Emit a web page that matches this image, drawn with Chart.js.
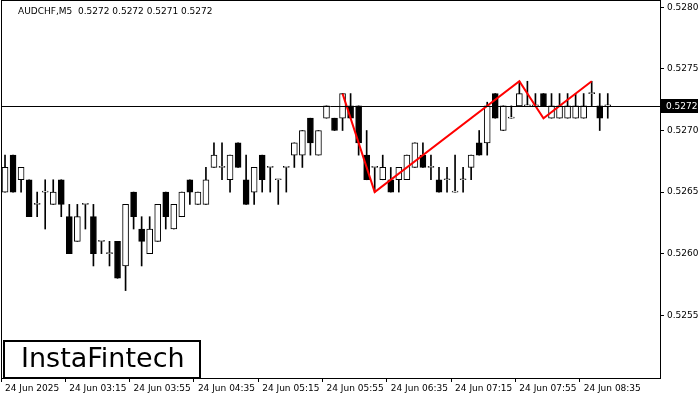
<!DOCTYPE html>
<html><head><meta charset="utf-8">
<script src="https://cdn.jsdelivr.net/npm/chart.js@4/dist/chart.umd.min.js"></script>
<style>html,body{margin:0;padding:0;background:#fff;overflow:hidden}canvas{display:block}</style>
</head><body><canvas id="c" width="700" height="400"></canvas>
<script>
const opens  = [.5265,.5268,.5266,.5266,.5264,.5265,.5264,.5266,.5263,.5261,.5264,.5263,.5261,.5260,.5261,.5259,.5265,.5262,.5260,.5261,
 .5265,.5262,.5263,.5266,.5264,.5264,.5267,.5267,.5266,.5269,.5266,.5265,.5268,.5267,.5266,.5267,.5268,.5268,.5271,.5268,
 .5271,.5271,.5271,.5272,.5272,.5268,.5267,.5266,.5266,.5266,.5266,.5267,.5268,.5267,.5266,.5266,.5265,.5266,.5267,.5269,
 .5269,.5273,.5270,.5271,.5272,.5272,.5272,.5273,.5271,.5271,.5271,.5271,.5271,.5273,.5272,.5272];
const highs  = [.5268,.5268,.5267,.5266,.5265,.5266,.5266,.5266,.5264,.5264,.5264,.5264,.5261,.5261,.5261,.5264,.5265,.5263,.5263,.5264,
 .5265,.5264,.5265,.5266,.5265,.5267,.5269,.5269,.5268,.5269,.5268,.5267,.5268,.5267,.5266,.5267,.5269,.5270,.5271,.5270,
 .5272,.5271,.5273,.5273,.5272,.5270,.5267,.5268,.5267,.5267,.5268,.5269,.5269,.5268,.5267,.5267,.5268,.5267,.5268,.5270,
 .52723,.5273,.5272,.5272,.5274,.5274,.5273,.5273,.5273,.5273,.5273,.5273,.5273,.5274,.5273,.5273];
const lows   = [.5265,.5265,.5265,.5263,.5263,.5262,.5264,.5263,.5260,.5261,.5262,.5259,.5260,.5259,.5258,.5257,.5262,.5259,.5260,.5261,
 .5262,.5262,.5263,.5264,.5264,.5264,.5267,.5266,.5265,.5267,.5264,.5264,.5265,.5265,.5264,.5265,.5267,.5267,.5268,.5268,
 .5271,.5270,.5270,.5271,.5268,.5266,.5265,.5266,.5265,.5265,.5266,.5267,.5267,.5266,.5265,.5265,.5265,.5265,.5266,.5268,
 .5268,.5271,.5270,.5271,.5272,.5272,.5272,.5272,.5271,.5271,.5271,.5271,.5271,.5272,.5270,.5271];
const closes = [.5267,.5265,.5267,.5263,.5264,.5265,.5265,.5264,.5260,.5263,.5264,.5260,.5261,.5260,.5258,.5264,.5263,.5261,.5262,.5264,
 .5263,.5264,.5265,.5265,.5265,.5266,.5268,.5267,.5268,.5267,.5264,.5267,.5266,.5267,.5266,.5267,.5269,.5270,.5269,.5270,
 .5272,.5270,.5273,.5271,.5269,.5266,.5267,.5267,.5265,.5267,.5268,.5269,.5267,.5267,.5265,.5266,.5265,.5266,.5268,.5268,
 .5272,.5271,.5272,.5271,.5273,.5272,.5272,.5272,.5272,.5272,.5272,.5272,.5272,.5273,.5271,.5272];
const patternIdx = [42,46,64,67,73];
const patternVals = [.5273,.5265,.5274,.5271,.5274];
const timeLabels = ["24 Jun 2025","24 Jun 03:15","24 Jun 03:55","24 Jun 04:35","24 Jun 05:15","24 Jun 05:55","24 Jun 06:35","24 Jun 07:15","24 Jun 07:55","24 Jun 08:35"];
const yTicks = [0.5255,0.5260,0.5265,0.5270,0.5275,0.5280];
const lastPrice = 0.5272;
const titleText = "AUDCHF,M5  0.5272 0.5272 0.5271 0.5272";

const N = 82;
const labels = Array.from({length:N},(_,i)=>i);
const wick = opens.map((o,i)=>[lows[i],highs[i]]);
const body = opens.map((o,i)=>[o,closes[i]]);
const bodyFill = opens.map((o,i)=>closes[i]>=o?'#ffffff':'#000000');

const deco = {
  id:'deco',
  afterDatasetsDraw(ch){
    const {ctx,chartArea:a,scales:{y}}=ch;
    ctx.save();
    const py=Math.round(y.getPixelForValue(lastPrice))+0.5;
    ctx.strokeStyle='#000';ctx.lineWidth=1;
    ctx.beginPath();ctx.moveTo(a.left,py);ctx.lineTo(a.right,py);ctx.stroke();
    ctx.restore();
  },
  afterDraw(ch){
    const {ctx,chartArea:a,scales:{y}}=ch;
    ctx.save();
    ctx.strokeStyle='#000';ctx.lineWidth=1;
    ctx.strokeRect(a.left+0.5,a.top+0.5,a.right-a.left,a.bottom-a.top);
    ctx.fillStyle='#000';ctx.font='9px "DejaVu Sans"';ctx.textBaseline='middle';ctx.textAlign='left';
    ctx.fillText(titleText,18,12);
    const py=Math.round(y.getPixelForValue(lastPrice));
    ctx.fillRect(a.right+1,py-7,37,14);
    ctx.fillStyle='#fff';ctx.fillText(lastPrice.toFixed(4),a.right+6,py+0.5);
    ctx.fillStyle='#fff';ctx.fillRect(3,340,197,38);
    ctx.strokeStyle='#000';ctx.lineWidth=2;ctx.strokeRect(4,341,196,37);
    ctx.fillStyle='#000';ctx.font='27px "DejaVu Sans"';ctx.textAlign='left';
    ctx.fillText('InstaFintech',21,360);
    ctx.restore();
  }
};

new Chart(document.getElementById('c'),{
  type:'bar',
  data:{labels,datasets:[
    {type:'line',data:patternIdx.map((x,i)=>({x,y:patternVals[i]})),borderColor:'#ff0000',borderWidth:2,pointRadius:0,order:0},
    {data:body,backgroundColor:bodyFill,borderColor:'#000',borderWidth:1,borderSkipped:false,barThickness:6,minBarLength:1,grouped:false,order:1},
    {data:wick,backgroundColor:'#000',barThickness:1,grouped:false,order:2}
  ]},
  options:{
    responsive:false,animation:false,devicePixelRatio:1,
    layout:{padding:{left:1,top:0,right:0,bottom:0}},
    plugins:{legend:{display:false},tooltip:{enabled:false}},
    scales:{
      x:{type:'category',offset:true,
        grid:{drawOnChartArea:false,tickLength:4,color:(c)=>(c.index%8===0&&c.index<=72)?'#000':'rgba(0,0,0,0)'},
        border:{display:false},
        ticks:{autoSkip:false,maxRotation:0,align:'start',padding:1,color:'#000',font:{size:9,family:'DejaVu Sans'},
          callback:(v,i)=>(i%8===0&&i<=72)?timeLabels[i/8]:''},
        afterFit:(s)=>{s.height=22;s.paddingLeft=0;s.paddingRight=0;}
      },
      y:{position:'right',min:0.52499,max:0.52806,
        afterBuildTicks:(s)=>{s.ticks=yTicks.map(v=>({value:v}));},
        grid:{drawOnChartArea:false,tickLength:4,color:'#000'},
        border:{display:false},
        ticks:{color:'#000',padding:3,font:{size:9,family:'DejaVu Sans'},callback:(v)=>Number(v).toFixed(4)},
        afterFit:(s)=>{s.width=40;s.paddingTop=0;s.paddingBottom=0;}
      }
    }
  },
  plugins:[deco]
});
</script></body></html>
